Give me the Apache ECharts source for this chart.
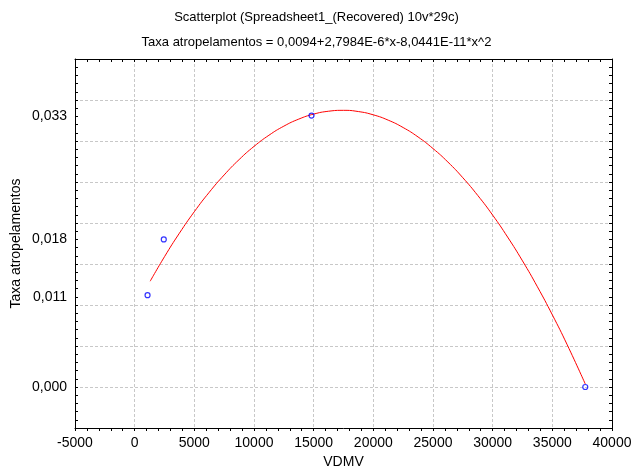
<!DOCTYPE html>
<html>
<head>
<meta charset="utf-8">
<script src="https://cdn.jsdelivr.net/npm/echarts@6/dist/echarts.min.js"></script>
<style>
  html, body { margin: 0; padding: 0; background: #fff; }
  #chart { width: 633px; height: 468px; }
</style>
</head>
<body>
<div id="chart"></div>
<script>
// Observed data points (VDMV, Taxa atropelamentos)
const pointX = [1080, 2440, 14820, 37760];
const pointY = [0.0112, 0.0180, 0.0331, 0.0000];

// Fitted curve
const curveX = [1300, 2500, 3750, 5000, 6250, 7500, 8750, 10000, 11250, 12500, 13750, 15000, 16250, 17500, 18750, 20000,
                21250, 22500, 23750, 25000, 26250, 27500, 28750, 30000, 31250, 32500, 33750, 35000, 36250, 37764];
const curveY = [0.01290, 0.01589, 0.01876, 0.02138, 0.02375, 0.02586, 0.02773, 0.02934, 0.03070, 0.03181, 0.03267, 0.03328,
                0.03363, 0.03374, 0.03359, 0.03319, 0.03254, 0.03164, 0.03049, 0.02908, 0.02743, 0.02552, 0.02336, 0.02096,
                0.01829, 0.01538, 0.01222, 0.00880, 0.00514, 0.00036];

// Y-axis tick labels shown in the reference
const yTickValues = [0.000, 0.011, 0.018, 0.033];
const yTickTexts = ['0,000', '0,011', '0,018', '0,033'];

const titleText = 'Scatterplot (Spreadsheet1_(Recovered) 10v*29c)';
const subtitleText = 'Taxa atropelamentos = 0,0094+2,7984E-6*x-8,0441E-11*x^2';
const xName = 'VDMV';
const yName = 'Taxa atropelamentos';

const FONT = 'Liberation Sans, Arial, sans-serif';
const chart = echarts.init(document.getElementById('chart'), null, { renderer: 'canvas' });

const gridLine = { show: true, lineStyle: { color: '#c8c8c8', type: [3, 2], width: 1 } };
const blackLine = { show: true, onZero: false, lineStyle: { color: '#000', width: 1 } };

chart.setOption({
  backgroundColor: '#fff',
  animation: false,
  title: [
    { text: titleText, left: 'center', top: 6, textStyle: { fontFamily: FONT, fontSize: 13, fontWeight: 'normal', color: '#000' } },
    { text: subtitleText, left: 'center', top: 31, textStyle: { fontFamily: FONT, fontSize: 13, fontWeight: 'normal', color: '#000' } }
  ],
  grid: { left: 75, right: 21, top: 59, bottom: 40, containLabel: false, outerBoundsMode: 'none' },
  xAxis: [
    {
      type: 'value', position: 'bottom', min: -5000, max: 40000, interval: 5000,
      axisLine: blackLine,
      axisTick: { show: true, inside: false, length: 3, lineStyle: { color: '#000' } },
      minorTick: { show: true, splitNumber: 5, length: 3, lineStyle: { color: '#000' } },
      splitLine: gridLine,
      axisLabel: { fontFamily: FONT, fontSize: 14, color: '#000', margin: 8, formatter: v => String(Math.round(v)) },
      name: xName, nameLocation: 'middle', nameGap: 27,
      nameTextStyle: { fontFamily: FONT, fontSize: 14, color: '#000' }
    },
    {
      type: 'value', position: 'top', min: -5000, max: 40000, interval: 5000,
      axisLine: blackLine,
      axisTick: { show: true, inside: true, length: 3, lineStyle: { color: '#000' } },
      minorTick: { show: true, splitNumber: 5, length: 3, lineStyle: { color: '#000' } },
      splitLine: { show: false },
      axisLabel: { show: false }
    }
  ],
  yAxis: [
    {
      type: 'value', position: 'left', min: -0.005, max: 0.04, interval: 0.005,
      axisLine: blackLine,
      axisTick: { show: true, inside: true, length: 3, lineStyle: { color: '#000' } },
      minorTick: { show: true, splitNumber: 5, length: 3, lineStyle: { color: '#000' } },
      splitLine: gridLine,
      axisLabel: { show: false },
      name: yName, nameLocation: 'middle', nameGap: 52, nameRotate: 90,
      nameTextStyle: { fontFamily: FONT, fontSize: 14, color: '#000' }
    },
    {
      type: 'value', position: 'right', min: -0.005, max: 0.04, interval: 0.005,
      axisLine: blackLine,
      axisTick: { show: true, inside: true, length: 3, lineStyle: { color: '#000' } },
      minorTick: { show: true, splitNumber: 5, length: 3, lineStyle: { color: '#000' } },
      splitLine: { show: false },
      axisLabel: { show: false }
    },
    {
      type: 'value', position: 'left', offset: 0, min: -0.005, max: 0.04, interval: 0.001,
      axisLine: { show: false, onZero: false },
      axisTick: { show: false },
      splitLine: { show: false },
      axisLabel: {
        fontFamily: FONT, fontSize: 14, color: '#000', margin: 8,
        formatter: function (v) {
          const k = Math.round(v * 1000);
          for (let i = 0; i < yTickValues.length; i++) {
            if (Math.round(yTickValues[i] * 1000) === k) return yTickTexts[i];
          }
          return '';
        }
      }
    }
  ],
  series: [
    {
      type: 'line', xAxisIndex: 0, yAxisIndex: 0,
      data: curveX.map((x, i) => [x, curveY[i]]),
      smooth: true, showSymbol: false, symbol: 'none',
      lineStyle: { color: '#ff0000', width: 1 },
      z: 2
    },
    {
      type: 'scatter', xAxisIndex: 0, yAxisIndex: 0,
      data: pointX.map((x, i) => [x, pointY[i]]),
      symbol: 'circle', symbolSize: 5,
      itemStyle: { color: 'rgba(255,255,255,0)', borderColor: '#0000ff', borderWidth: 1.2 },
      z: 3
    }
  ]
});
</script>
</body>
</html>
